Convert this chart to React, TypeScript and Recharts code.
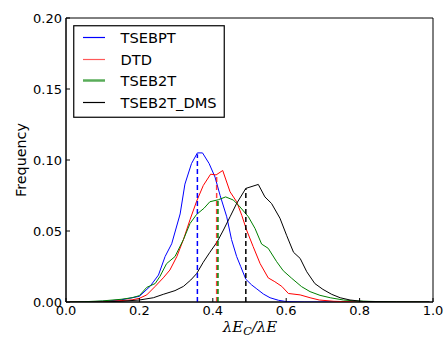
import React from 'react';
import { LineChart, Line, XAxis, YAxis, ReferenceArea } from 'recharts';

const seriesNames = ['TSEBPT', 'DTD', 'TSEB2T', 'TSEB2T_DMS'];
const seriesColors = ['#0000ff', '#ff0000', '#008000', '#000000'];

const tsebptX = [0.01, 0.05, 0.10, 0.15, 0.18, 0.20, 0.229, 0.252, 0.27, 0.288, 0.311, 0.324, 0.342, 0.358, 0.372, 0.39, 0.406, 0.42, 0.438, 0.451, 0.465, 0.476, 0.49, 0.506, 0.52, 0.538, 0.556, 0.579, 0.60, 0.65, 0.99];
const tsebptY = [0, 0.0001, 0.0005, 0.0015, 0.003, 0.004, 0.011, 0.019, 0.032, 0.041, 0.062, 0.083, 0.0975, 0.105, 0.105, 0.0975, 0.088, 0.075, 0.060, 0.044, 0.032, 0.025, 0.016, 0.012, 0.0092, 0.0056, 0.003, 0.0012, 0.0003, 0, 0];

const dtdX = [0.01, 0.05, 0.10, 0.15, 0.18, 0.20, 0.22, 0.243, 0.265, 0.283, 0.302, 0.32, 0.338, 0.356, 0.374, 0.394, 0.409, 0.427, 0.447, 0.465, 0.479, 0.492, 0.51, 0.529, 0.551, 0.569, 0.588, 0.606, 0.638, 0.665, 0.69, 0.73, 0.80, 0.99];
const dtdY = [0, 0, 0.0002, 0.001, 0.0015, 0.0026, 0.005, 0.011, 0.017, 0.0225, 0.032, 0.044, 0.058, 0.071, 0.082, 0.090, 0.0895, 0.0926, 0.0776, 0.0706, 0.061, 0.0507, 0.039, 0.027, 0.017, 0.0143, 0.011, 0.006, 0.005, 0.003, 0.0014, 0.0005, 0, 0];

const tseb2tX = [0.01, 0.05, 0.10, 0.15, 0.18, 0.20, 0.22, 0.243, 0.256, 0.274, 0.297, 0.32, 0.338, 0.356, 0.376, 0.392, 0.415, 0.435, 0.456, 0.474, 0.497, 0.515, 0.533, 0.551, 0.574, 0.592, 0.615, 0.642, 0.665, 0.692, 0.72, 0.756, 0.79, 0.85, 0.9, 0.99];
const tseb2tY = [0, 0.0002, 0.0008, 0.0019, 0.003, 0.0045, 0.0103, 0.013, 0.018, 0.027, 0.032, 0.044, 0.0553, 0.0617, 0.066, 0.0706, 0.072, 0.074, 0.0718, 0.067, 0.060, 0.0518, 0.0408, 0.0378, 0.0284, 0.022, 0.0167, 0.0108, 0.0073, 0.0047, 0.003, 0.0014, 0.0007, 0.0003, 0.0001, 0];

const dmsX = [0.01, 0.10, 0.15, 0.20, 0.238, 0.265, 0.297, 0.32, 0.34, 0.356, 0.374, 0.392, 0.412, 0.429, 0.447, 0.465, 0.49, 0.524, 0.542, 0.56, 0.583, 0.601, 0.62, 0.638, 0.656, 0.678, 0.70, 0.724, 0.747, 0.774, 0.81, 0.9, 0.99];
const dmsY = [0, 0.0001, 0.0005, 0.0014, 0.003, 0.0054, 0.008, 0.011, 0.0155, 0.020, 0.028, 0.035, 0.0424, 0.0507, 0.060, 0.0694, 0.080, 0.0828, 0.074, 0.0694, 0.059, 0.047, 0.035, 0.0307, 0.0213, 0.013, 0.0089, 0.0054, 0.003, 0.0014, 0.0004, 0.0001, 0];

const meanValues = [0.358, 0.4105, 0.414, 0.49];
const meanHeights = [0.104, 0.088, 0.073, 0.080];

const xTicks = [0, 0.2, 0.4, 0.6, 0.8, 1.0];
const yTicks = [0, 0.05, 0.1, 0.15, 0.2];

const allX = [tsebptX, dtdX, tseb2tX, dmsX];
const allY = [tsebptY, dtdY, tseb2tY, dmsY];

const curves = allX.map((xs, i) => xs.map((x, j) => ({ x, y: allY[i][j] })));
const meanLines = meanValues.map((m, i) => [
  { x: m, y: 0 },
  { x: m, y: meanHeights[i] },
]);

const FONT = '"DejaVu Sans", sans-serif';
const legendRows = [12.5, 34.5, 55.5, 77.5];

const LegendBox = () => (
  <svg width={152} height={93} style={{ display: 'block' }}>
    <rect x={0.75} y={0.75} width={150.5} height={91.5} fill="#fff" stroke="#000" strokeWidth={1.2} />
    {seriesNames.map((n, i) => (
      <g key={n}>
        <line
          x1={10}
          x2={32}
          y1={legendRows[i]}
          y2={legendRows[i]}
          stroke={seriesColors[i]}
          strokeWidth={i === 2 ? 2.5 : 1.2}
          strokeOpacity={i === 1 || i === 2 ? 0.65 : 1}
        />
        <text x={47.5} y={legendRows[i]} dy="0.36em" fontSize={14.6} fontFamily={FONT} fill="#000">
          {n}
        </text>
      </g>
    ))}
  </svg>
);

export default function App() {
  return (
    <div style={{ position: 'absolute', left: 0, top: 0, width: 445, height: 339, background: '#fff' }}>
      <LineChart width={445} height={339} margin={{ top: 18, right: 12, bottom: 0, left: 0 }}>
        <XAxis
          xAxisId="bottom"
          dataKey="x"
          type="number"
          domain={[0, 1]}
          ticks={xTicks}
          tickFormatter={(v: number) => v.toFixed(1)}
          height={37}
          tickSize={-4}
          tickMargin={8}
          axisLine={{ stroke: '#000' }}
          tickLine={{ stroke: '#000' }}
          tick={{ fill: '#000', fontSize: 13, fontFamily: FONT }}
          allowDataOverflow
          interval={0}
        />
        <XAxis
          xAxisId="top"
          orientation="top"
          dataKey="x"
          type="number"
          domain={[0, 1]}
          ticks={xTicks}
          tickFormatter={() => ''}
          height={0}
          tickSize={-4}
          axisLine={{ stroke: '#000' }}
          tickLine={{ stroke: '#000' }}
          allowDataOverflow
          interval={0}
        />
        <YAxis
          yAxisId="left"
          type="number"
          domain={[0, 0.2]}
          ticks={yTicks}
          tickFormatter={(v: number) => v.toFixed(2)}
          width={66}
          tickSize={-4}
          tickMargin={8}
          axisLine={{ stroke: '#000' }}
          tickLine={{ stroke: '#000' }}
          tick={{ fill: '#000', fontSize: 13, fontFamily: FONT }}
          allowDataOverflow
          interval={0}
          label={{
            value: 'Frequency',
            angle: -90,
            position: 'insideLeft',
            offset: 0,
            dx: 21,
            style: { fill: '#000', fontSize: 14.3, fontFamily: FONT, textAnchor: 'middle' },
          }}
        />
        <YAxis
          yAxisId="right"
          orientation="right"
          type="number"
          domain={[0, 0.2]}
          ticks={yTicks}
          tickFormatter={() => ''}
          width={0}
          tickSize={-4}
          axisLine={{ stroke: '#000' }}
          tickLine={{ stroke: '#000' }}
          allowDataOverflow
          interval={0}
        />
        <ReferenceArea
          xAxisId="bottom"
          yAxisId="left"
          x1={0}
          x2={1}
          y1={0}
          y2={0.2}
          fill="none"
          fillOpacity={0}
          stroke="#000"
          strokeWidth={1}
          ifOverflow="visible"
        />
        {curves.map((d, i) => (
          <Line
            key={seriesNames[i]}
            xAxisId="bottom"
            yAxisId="left"
            data={d}
            dataKey="y"
            name={seriesNames[i]}
            stroke={seriesColors[i]}
            strokeWidth={1}
            dot={false}
            activeDot={false}
            type="linear"
            isAnimationActive={false}
          />
        ))}
        {meanLines.map((d, i) => (
          <Line
            key={'mean' + i}
            xAxisId="top"
            yAxisId="right"
            data={d}
            dataKey="y"
            stroke={seriesColors[i]}
            strokeWidth={1.5}
            strokeDasharray="5 3"
            strokeOpacity={i === 1 ? 0.75 : 1}
            dot={false}
            activeDot={false}
            legendType="none"
            type="linear"
            isAnimationActive={false}
          />
        ))}
      </LineChart>
      <div style={{ position: 'absolute', left: 73, top: 25 }}>
        <LegendBox />
      </div>
      <div
        style={{
          position: 'absolute',
          left: 0,
          width: 445,
          top: 318,
          textAlign: 'center',
          paddingLeft: 55,
          boxSizing: 'border-box',
          fontFamily: '"DejaVu Serif", serif',
          fontStyle: 'italic',
          fontSize: 15,
          lineHeight: '18px',
          color: '#000',
          pointerEvents: 'none',
        }}
      >
        λE<sub style={{ fontSize: 11, verticalAlign: '-3px', lineHeight: 0 }}>C</sub>/λE
      </div>
    </div>
  );
}
